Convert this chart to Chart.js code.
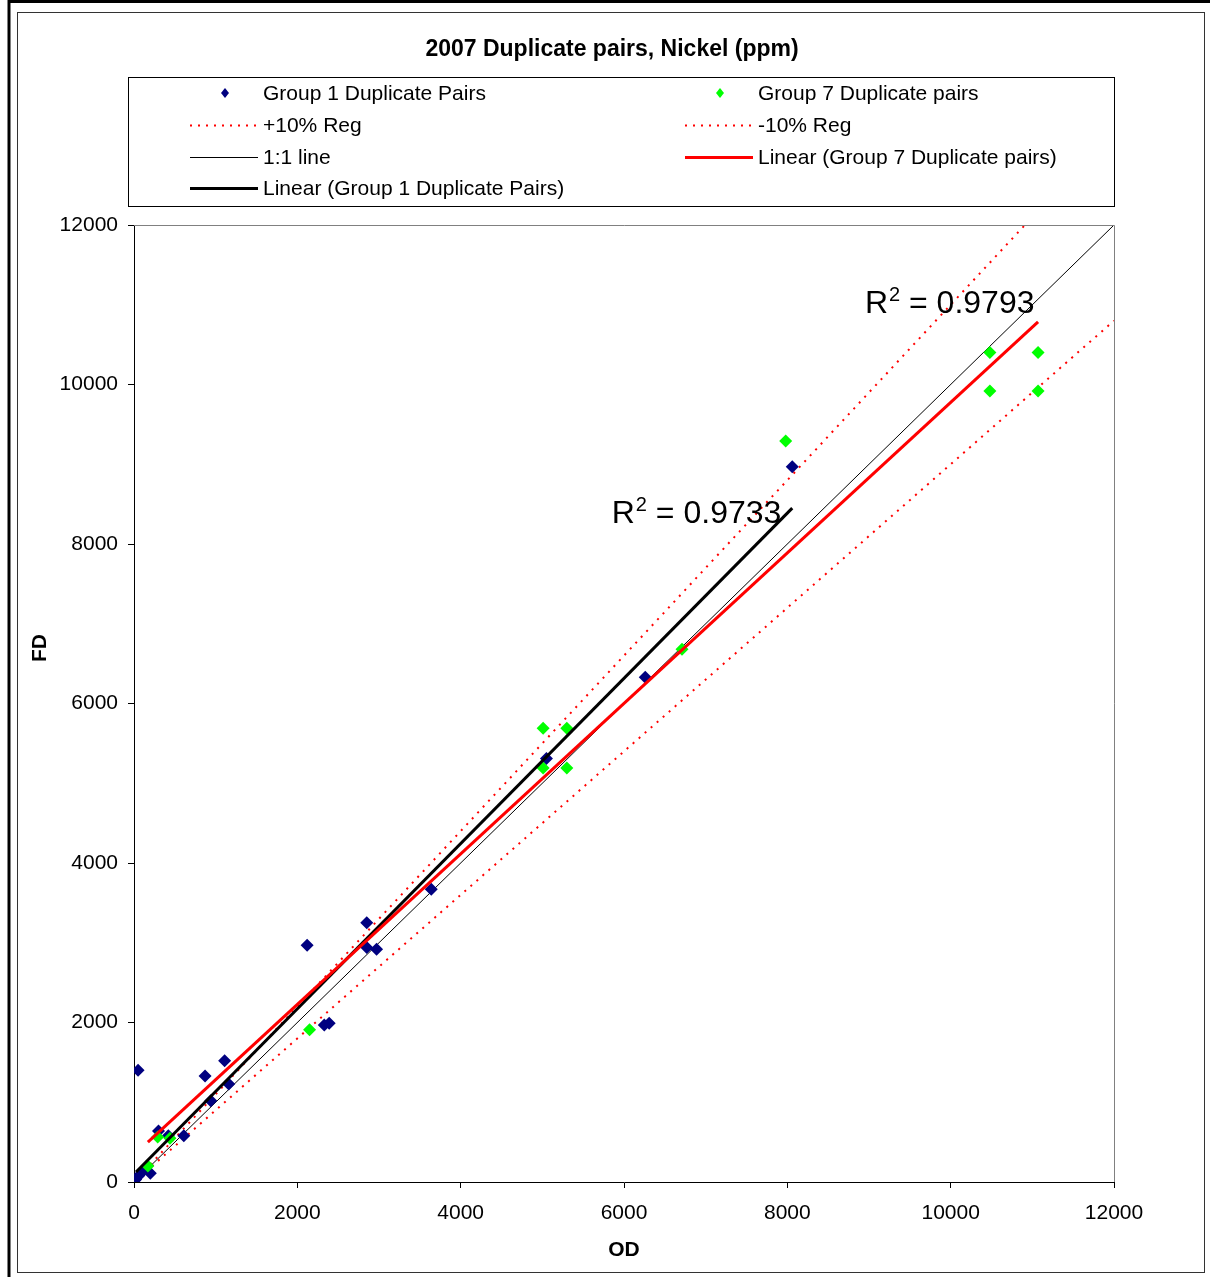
<!DOCTYPE html>
<html>
<head>
    <title>2007 Duplicate pairs, Nickel (ppm)</title>
    <meta charset="UTF-8">
    <style>
        body { margin: 0; background: #fff; }
        canvas { display: block; }
    </style>
</head>
<body>
<canvas id="myChart" width="1210" height="1277"></canvas>
<script src="https://cdn.jsdelivr.net/npm/chart.js@4.4.0/dist/chart.umd.min.js"></script>
<script>
    // Group 1 duplicate pairs (original vs field duplicate, ppm)
    var group1OD = [20, 60, 100, 200, 50, 300, 420, 610, 870, 940, 1110, 1160, 2120, 2330, 2390, 2850, 2850, 2970, 3640, 5050, 6260, 8060];
    var group1FD = [30, 80, 130, 110, 1400, 640, 580, 580, 1330, 1020, 1520, 1230, 2970, 1970, 1990, 3250, 2940, 2920, 3670, 5310, 6330, 8970];
    // Group 7 duplicate pairs
    var group7OD = [170, 290, 440, 2150, 5010, 5300, 5010, 5300, 6710, 7980, 10480, 11070, 10480, 11070];
    var group7FD = [200, 565, 550, 1910, 5690, 5690, 5190, 5190, 6680, 9290, 10400, 10400, 9920, 9920];
    // reference lines (end points)
    var refOD = [0, 12000];
    var oneToOneFD = [0, 12000];
    var plus10FD = [0, 13200];
    var minus10FD = [0, 10800];
    // trend lines
    var trend1OD = [25, 8060];
    var trend1FD = [125, 8450];
    var trend7OD = [170, 11070];
    var trend7FD = [500, 10785];
    // R squared labels
    var r2Values = ['0.9733', '0.9793'];
    var r2OD = [5850, 8950];
    var r2FD = [8265, 10895];

    var FONT = '"Liberation Sans", Arial, sans-serif';

    function pairs(xs, ys) {
        var out = [];
        for (let i = 0; i < xs.length; i++) {
            out.push({x: xs[i], y: ys[i]});
        }
        return out;
    }

    // frames, plot border, legend box, titles
    var decorations = {
        id: 'decorations',
        beforeDraw: function (chart) {
            var c = chart.ctx;
            c.save();
            c.fillStyle = '#fff';
            c.fillRect(0, 0, chart.width, chart.height);
            c.strokeStyle = '#000';
            c.lineWidth = 3;
            c.beginPath();
            c.moveTo(9, 1277);
            c.lineTo(9, 1.5);
            c.lineTo(1210, 1.5);
            c.stroke();
            c.lineWidth = 1;
            c.strokeStyle = '#333';
            c.strokeRect(17.5, 12.5, 1187, 1260);
            c.restore();
        },
        afterDraw: function (chart) {
            var c = chart.ctx;
            var a = chart.chartArea;
            c.save();
            // grey top and right border of the plot
            c.strokeStyle = '#808080';
            c.lineWidth = 1;
            c.beginPath();
            c.moveTo(a.left, a.top + 0.5);
            c.lineTo(a.right + 0.5, a.top + 0.5);
            c.lineTo(a.right + 0.5, a.bottom);
            c.stroke();

            // title
            c.fillStyle = '#000';
            c.font = 'bold 23px ' + FONT;
            c.textAlign = 'center';
            c.textBaseline = 'middle';
            c.fillText('2007 Duplicate pairs, Nickel (ppm)', 612, 50);

            // y axis title
            c.save();
            c.translate(40, 648);
            c.rotate(-Math.PI / 2);
            c.font = 'bold 21px ' + FONT;
            c.fillText('FD', 0, 0);
            c.restore();

            // legend box
            c.strokeStyle = '#000';
            c.strokeRect(128.5, 77.5, 986, 129);
            var colX = [190, 685];
            var rowY = [93, 125, 157, 188];
            var ds = chart.data.datasets;
            c.font = '21px ' + FONT;
            c.textAlign = 'left';
            for (let k = 0; k < ds.length; k++) {
                var d = ds[k];
                var x0 = colX[k % 2];
                var y0 = rowY[Math.floor(k / 2)];
                if (d.showLine) {
                    c.save();
                    c.strokeStyle = d.borderColor;
                    c.lineWidth = d.borderWidth;
                    c.setLineDash(d.borderDash || []);
                    c.beginPath();
                    c.moveTo(x0, y0 + 0.5);
                    c.lineTo(x0 + 68, y0 + 0.5);
                    c.stroke();
                    c.restore();
                } else {
                    c.fillStyle = d.backgroundColor;
                    c.beginPath();
                    c.moveTo(x0 + 35, y0 - 5);
                    c.lineTo(x0 + 39, y0);
                    c.lineTo(x0 + 35, y0 + 5);
                    c.lineTo(x0 + 31, y0);
                    c.closePath();
                    c.fill();
                }
                c.fillStyle = '#000';
                c.fillText(d.label, x0 + 73, y0 + 1);
            }

            // R squared labels
            var xs = chart.scales.x, ys = chart.scales.y;
            c.textBaseline = 'alphabetic';
            for (let i = 0; i < r2Values.length; i++) {
                var px = xs.getPixelForValue(r2OD[i]);
                var py = ys.getPixelForValue(r2FD[i]);
                c.font = '32px ' + FONT;
                c.fillText('R', px, py);
                var w = c.measureText('R').width;
                c.font = '20px ' + FONT;
                c.fillText('2', px + w + 1, py - 12);
                var w2 = c.measureText('2').width;
                c.font = '32px ' + FONT;
                c.fillText(' = ' + r2Values[i], px + w + w2 + 1, py);
            }
            c.restore();
        }
    };

    function plainTick(value) {
        return String(value);
    }

    var ctx = document.getElementById('myChart').getContext('2d');
    var myChart = new Chart(ctx, {
        type: 'scatter',
        data: {
            datasets: [
                {
                    label: 'Group 1 Duplicate Pairs',
                    data: pairs(group1OD, group1FD),
                    pointStyle: 'rectRot',
                    pointRadius: 6.5,
                    backgroundColor: '#000080',
                    borderColor: '#000080',
                    borderWidth: 0,
                    order: 4
                },
                {
                    label: 'Group 7 Duplicate pairs',
                    data: pairs(group7OD, group7FD),
                    pointStyle: 'rectRot',
                    pointRadius: 6.5,
                    backgroundColor: '#00FF00',
                    borderColor: '#00FF00',
                    borderWidth: 0,
                    order: 3
                },
                {
                    label: '+10% Reg',
                    data: pairs(refOD, plus10FD),
                    showLine: true,
                    pointRadius: 0,
                    borderColor: '#FF0000',
                    borderWidth: 2,
                    borderDash: [2, 6],
                    order: 6
                },
                {
                    label: '-10% Reg',
                    data: pairs(refOD, minus10FD),
                    showLine: true,
                    pointRadius: 0,
                    borderColor: '#FF0000',
                    borderWidth: 2,
                    borderDash: [2, 6],
                    order: 6
                },
                {
                    label: '1:1 line',
                    data: pairs(refOD, oneToOneFD),
                    showLine: true,
                    pointRadius: 0,
                    borderColor: '#000000',
                    borderWidth: 1,
                    order: 5
                },
                {
                    label: 'Linear (Group 7 Duplicate pairs)',
                    data: pairs(trend7OD, trend7FD),
                    showLine: true,
                    pointRadius: 0,
                    borderColor: '#FF0000',
                    borderWidth: 3,
                    order: 1
                },
                {
                    label: 'Linear (Group 1 Duplicate Pairs)',
                    data: pairs(trend1OD, trend1FD),
                    showLine: true,
                    pointRadius: 0,
                    borderColor: '#000000',
                    borderWidth: 3,
                    order: 2
                }
            ]
        },
        options: {
            responsive: false,
            animation: false,
            devicePixelRatio: 1,
            layout: {padding: {left: 0, right: 96, top: 225, bottom: 0}},
            plugins: {
                legend: {display: false},
                tooltip: {enabled: false}
            },
            scales: {
                x: {
                    type: 'linear',
                    min: 0,
                    max: 12000,
                    afterFit: function (scale) { scale.height = 95; },
                    ticks: {stepSize: 2000, color: '#000', padding: 13, font: {family: FONT, size: 21}, maxRotation: 0, callback: plainTick},
                    grid: {drawOnChartArea: false, color: '#000', tickLength: 6},
                    border: {color: '#000', width: 1},
                    title: {display: true, text: 'OD', color: '#000', font: {family: FONT, size: 21, weight: 'bold'}, padding: {top: 0, bottom: 14}}
                },
                y: {
                    type: 'linear',
                    min: 0,
                    max: 12000,
                    afterFit: function (scale) { scale.width = 134; },
                    ticks: {stepSize: 2000, color: '#000', padding: 10, font: {family: FONT, size: 21}, callback: plainTick},
                    grid: {drawOnChartArea: false, color: '#000', tickLength: 6},
                    border: {color: '#000', width: 1},
                    title: {display: false}
                }
            }
        },
        plugins: [decorations]
    });
</script>
</body>
</html>
